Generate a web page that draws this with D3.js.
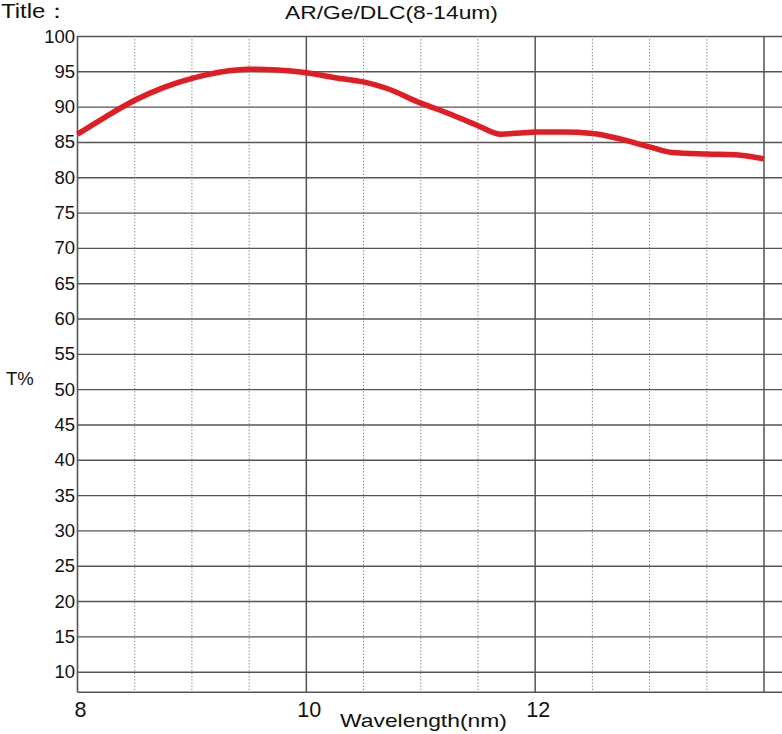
<!DOCTYPE html>
<html>
<head>
<meta charset="utf-8">
<script src="https://cdn.jsdelivr.net/npm/d3@7/dist/d3.min.js"></script>
<style>
  html, body { margin: 0; padding: 0; background: #fff; }
  svg { display: block; }
  text { font-family: "Liberation Sans", Arial, sans-serif; fill: #111; }
</style>
</head>
<body>
<svg id="chart" width="782" height="734"></svg>
<script>
// ---- data ----
const wavelength = [8.0, 8.25, 8.5, 8.75, 9.0, 9.25, 9.5, 9.75, 10.0, 10.25, 10.5, 10.7, 11.0, 11.25, 11.5, 11.7, 11.9, 12.0, 12.25, 12.5, 12.75, 13.0, 13.2, 13.5, 13.75, 14.0];
const transmission = [86.1, 88.6, 90.9, 92.7, 94.0, 94.9, 95.3, 95.2, 94.8, 94.1, 93.5, 92.6, 90.5, 89.0, 87.3, 86.1, 86.3, 86.4, 86.4, 86.2, 85.4, 84.3, 83.5, 83.3, 83.2, 82.6];
const yTicks = [10, 15, 20, 25, 30, 35, 40, 45, 50, 55, 60, 65, 70, 75, 80, 85, 90, 95, 100];
const xLabelTicks = [8, 10, 12];
const xMajorGrid = [10, 12, 14];
const xMinorGrid = [8.5, 9, 9.5, 10.5, 11, 11.5, 12.5, 13, 13.5];
const titleLabel = "Title：";
const chartTitle = "AR/Ge/DLC(8-14um)";
const xAxisTitle = "Wavelength(nm)";
const yAxisTitle = "T%";

// ---- layout ----
const W = 782, H = 734;
const x = d3.scaleLinear().domain([8, 14]).range([77.5, 764]);
const y = d3.scaleLinear().domain([7.08, 100]).range([692.3, 36]);
const svg = d3.select("#chart");

const gridColor = "#555";

// horizontal grid (via axis)
const yAxis = d3.axisLeft(y).tickValues(yTicks).tickSize(-(W - x(8))).tickFormat("");
const gy = svg.append("g").attr("transform", `translate(${x(8)},0)`).call(yAxis);
gy.select(".domain").remove();
gy.selectAll(".tick line").attr("stroke", gridColor).attr("stroke-width", 1.4);

// y labels
svg.append("g").selectAll("text").data(yTicks).join("text")
  .attr("x", 75).attr("y", d => y(d) + 6.5)
  .attr("text-anchor", "end").attr("font-size", 18.5)
  .text(d => d);

// minor vertical dotted grid
svg.append("g").selectAll("line").data(xMinorGrid).join("line")
  .attr("x1", d => x(d)).attr("x2", d => x(d))
  .attr("y1", y(100)).attr("y2", y(7.08))
  .attr("stroke", "#777").attr("stroke-width", 1)
  .attr("stroke-dasharray", "1.2,2");

// major vertical grid
svg.append("g").selectAll("line").data(xMajorGrid).join("line")
  .attr("x1", d => x(d)).attr("x2", d => x(d))
  .attr("y1", y(100)).attr("y2", y(7.08))
  .attr("stroke", gridColor).attr("stroke-width", 1.5);

// left axis line & bottom line
svg.append("line").attr("x1", x(8)).attr("x2", x(8)).attr("y1", y(100)).attr("y2", y(7.08))
  .attr("stroke", gridColor).attr("stroke-width", 1.6);
svg.append("line").attr("x1", x(8)).attr("x2", W).attr("y1", y(7.08)).attr("y2", y(7.08))
  .attr("stroke", gridColor).attr("stroke-width", 1.6);

// x labels
svg.append("g").selectAll("text").data(xLabelTicks).join("text")
  .attr("x", d => x(d) + 3).attr("y", 717)
  .attr("text-anchor", "middle").attr("font-size", 21.5)
  .text(d => d);

// curve
const pts = wavelength.map((w, i) => [w, transmission[i]]);
const line = d3.line().x(d => x(d[0])).y(d => y(d[1])).curve(d3.curveMonotoneX);
svg.append("path").datum(pts).attr("d", line)
  .attr("fill", "none").attr("stroke", "#e31b23").attr("stroke-width", 5.5)
  .attr("stroke-linecap", "butt").attr("stroke-linejoin", "round");

// titles: horizontally stretched text fitted to a target width
function wideText(str, x0, y0, size, targetW) {
  const t = svg.append("text").attr("x", 0).attr("y", 0).attr("font-size", size).text(str);
  const natural = t.node().getComputedTextLength();
  const sx = targetW / natural;
  t.attr("transform", `translate(${x0},${y0}) scale(${sx},1)`);
  return t;
}
svg.append("text").attr("transform", "translate(1,18) scale(1.2,1)")
  .attr("font-size", 20).text(titleLabel);
wideText(chartTitle, 285, 18.5, 17.5, 213);
wideText(xAxisTitle, 340, 726.5, 18.5, 167);
svg.append("text").attr("x", 6).attr("y", 385).attr("font-size", 18.5)
  .text(yAxisTitle);
</script>
</body>
</html>
